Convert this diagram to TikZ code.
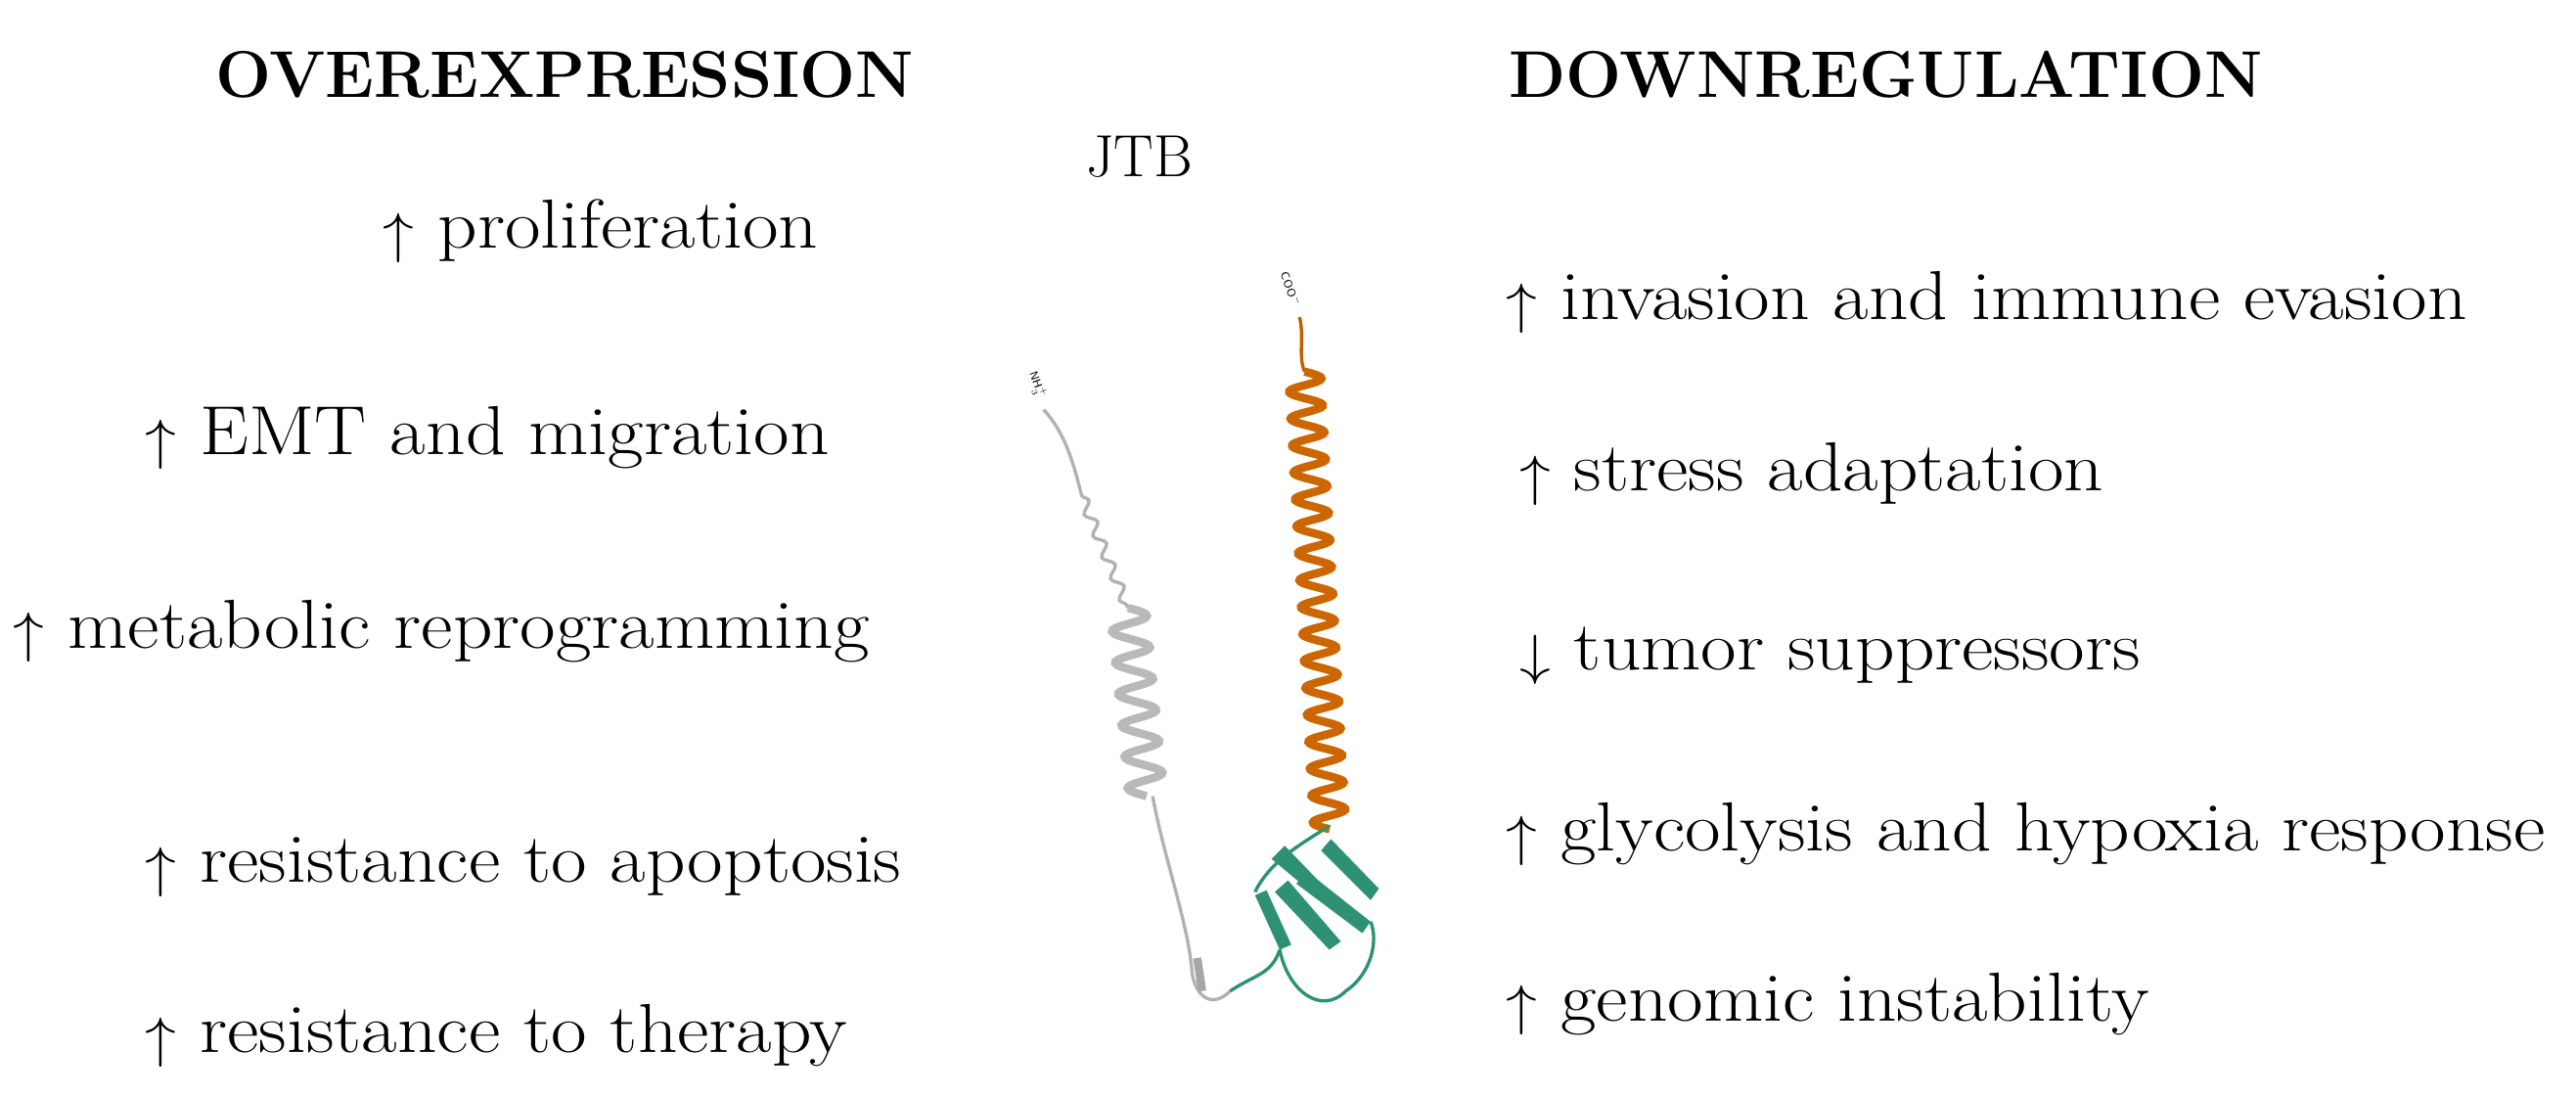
\documentclass[tikz,border=0pt]{standalone}
\usetikzlibrary{decorations.pathmorphing}
\definecolor{sheet}{HTML}{2E9173}
\newcommand{\myup}{\raisebox{-2pt}{\scalebox{1.35}{$\uparrow$}}}
\newcommand{\mydown}{\raisebox{-2pt}{\scalebox{1.35}{$\downarrow$}}}
\begin{document}
\begin{tikzpicture}[x=1pt,y=-1pt,
  item/.style={anchor=west,inner sep=0pt,font=\fontsize{42}{44}\selectfont,xscale=1.12},
  head/.style={inner sep=0pt,font=\fontsize{40}{42}\selectfont\bfseries}]
\useasboundingbox (0,0) rectangle (1560,664);
\node[head] (oh) at (342,45) {OVEREXPRESSION};
\node[head] (dh) at (1142,45) {DOWNREGULATION};
\node[inner sep=0pt,font=\fontsize{36}{38}\selectfont] (jtb) at (690,95) {JTB};
\node[item] (l1) at (232,140) {\myup{} proliferation};
\node[item] (l2) at (88,265) {\myup{} EMT and migration};
\node[item] (l3) at (8,382) {\myup{} metabolic reprogramming};
\node[item] (l4) at (88,525) {\myup{} resistance to apoptosis};
\node[item] (l5) at (88,627) {\myup{} resistance to therapy};
\node[item] (r1) at (912,183) {\myup{} invasion and immune evasion};
\node[item] (r2) at (920,287) {\myup{} stress adaptation};
\node[item] (r3) at (920,397) {\mydown{} tumor suppressors};
\node[item] (r4) at (912,505) {\myup{} glycolysis and hypoxia response};
\node[item] (r5) at (912,608) {\myup{} genomic instability};
% protein
\node[rotate=-70,font=\scriptsize\sffamily,inner sep=0pt] (nh) at (628,233) {NH$_3^+$};
\node[rotate=-70,font=\scriptsize\sffamily,inner sep=0pt] (coo) at (782,175) {COO$^-$};
\draw[gray!60,line width=2pt] (632,248) .. controls (645,262) and (650,280) .. (655,300)
  decorate[decoration={snake,amplitude=3pt,segment length=14pt}]{ -- (683,368)};
\draw[gray!55,line width=5pt,domain=0:6,samples=120,smooth]
  plot ({683+0.10*(\x*19)+11*sin(\x*360)},{368+\x*19});
\draw[gray!60,line width=2pt] (698,482) .. controls (705,520) and (720,560) .. (722,590)
  .. controls (725,605) and (735,610) .. (745,600);
\draw[gray!70,line width=5pt] (725,580) -- (728,600);
\draw[orange!75!black,line width=2pt] (787,192) .. controls (790,205) and (786,215) .. (790,225);
\draw[orange!80!black,line width=5pt,domain=0:17,samples=400,smooth]
  plot ({790+\x*0.9+10*sin(\x*360)},{225+\x*16.3});
\begin{scope}[sheet]
\draw[line width=2pt] (805,500) .. controls (790,510) and (770,520) .. (760,540);
\fill (770,520) -- (800,545) -- (805,540) -- (778,512) -- cycle;
\fill (772,540) -- (805,575) -- (812,570) -- (780,533) -- cycle;
\fill (785,535) -- (825,565) -- (830,558) -- (792,528) -- cycle;
\fill (800,515) -- (830,545) -- (835,538) -- (806,508) -- cycle;
\fill (760,542) -- (775,575) -- (782,572) -- (767,539) -- cycle;
\draw[line width=2pt] (775,575) .. controls (780,600) and (800,615) .. (815,600)
  .. controls (830,590) and (835,570) .. (830,558);
\draw[line width=2pt] (745,600) .. controls (760,590) and (770,590) .. (775,575);
\end{scope}
\end{tikzpicture}
\end{document}
